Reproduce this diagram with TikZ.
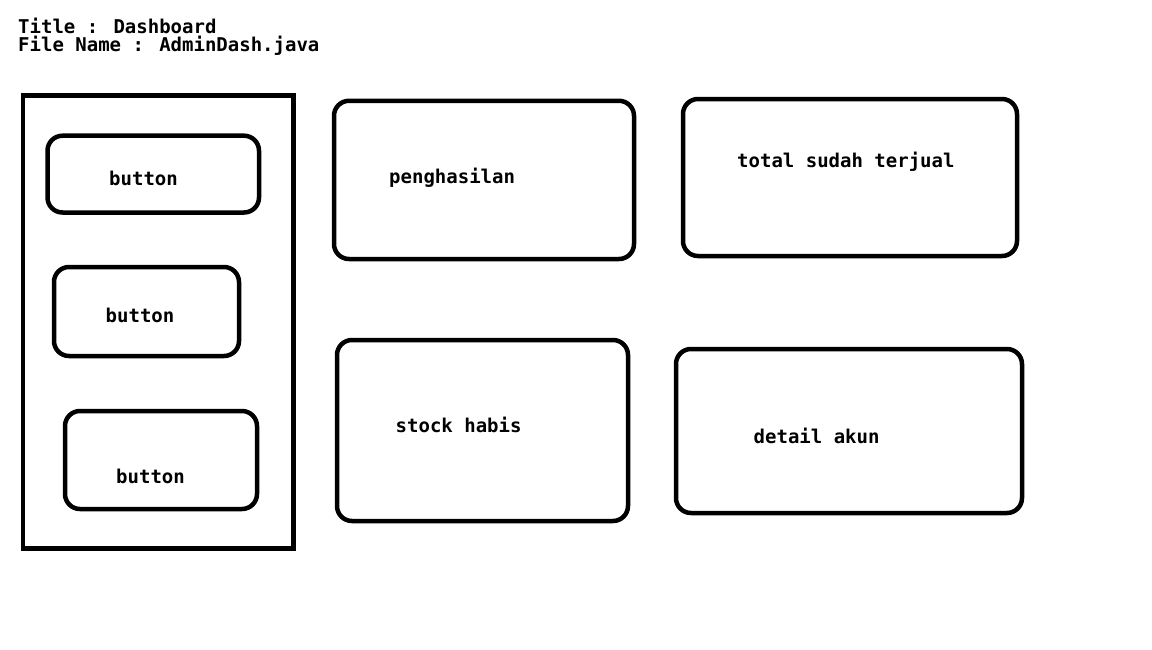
\documentclass[tikz,border=0pt]{standalone}
\usepackage{fontspec}
\newfontfamily\monob{DejaVu Sans Mono}
\tikzset{
  box/.style={draw=black, line width=4.5pt, rounded corners=15pt, inner sep=0pt, outer sep=0pt},
  panel/.style={draw=black, line width=4.5pt, inner sep=0pt, outer sep=0pt},
  lbl/.style={anchor=base west, inner sep=0pt, font=\monob\bfseries\fontsize{19}{19}\selectfont},
}
\begin{document}
\begin{tikzpicture}[x=1pt,y=-1pt]
\useasboundingbox[fill=white] (0,0) rectangle (1152,649);
% title
\node[lbl] (title) at (18,33) {Title : Dashboard};
\node[lbl] (fname) at (18,51) {File Name : AdminDash.java};
% sidebar
\node[panel, minimum width=270.5pt, minimum height=453pt] (side) at ({(23+293.5)/2},{(95.5+548.5)/2}) {};
% buttons
\node[box, minimum width=211.5pt, minimum height=76.8pt] (b1) at ({(47.5+259)/2},{(135.7+212.5)/2}) {};
\node[lbl] (b1t) at (109,185) {button};
\node[box, minimum width=185pt, minimum height=89pt] (b2) at ({(54+239)/2},{(267+356)/2}) {};
\node[lbl] (b2t) at (105.5,322) {button};
\node[box, minimum width=192pt, minimum height=98pt] (b3) at ({(65+257)/2},{(411+509)/2}) {};
\node[lbl] (b3t) at (116,483) {button};
% cards
\node[box, minimum width=300pt, minimum height=158.2pt] (c1) at ({(334+634)/2},{(100.8+259)/2}) {};
\node[lbl] (c1t) at (389,183) {penghasilan};
\node[box, minimum width=334pt, minimum height=157pt] (c2) at ({(683+1017)/2},{(99+256)/2}) {};
\node[lbl] (c2t) at (737,167.5) {total sudah terjual};
\node[box, minimum width=291pt, minimum height=181pt] (c3) at ({(337+628)/2},{(340+521)/2}) {};
\node[lbl] (c3t) at (395.5,432) {stock habis};
\node[box, minimum width=346pt, minimum height=164pt] (c4) at ({(676+1022)/2},{(349+513)/2}) {};
\node[lbl] (c4t) at (753.5,443) {detail akun};
\end{tikzpicture}
\end{document}
